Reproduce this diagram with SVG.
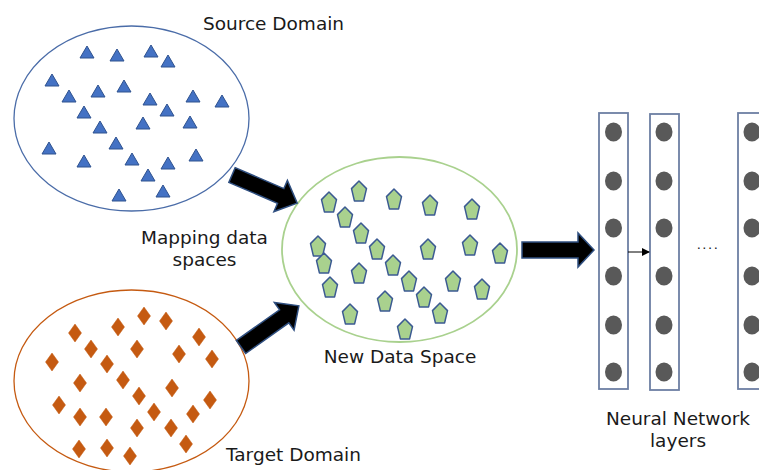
<svg xmlns="http://www.w3.org/2000/svg" xmlns:xlink="http://www.w3.org/1999/xlink" width="759" height="470" viewBox="0 0 759 470">
  <style>
    .lbl { font-family: "DejaVu Sans", Verdana, sans-serif; font-size: 18.5px; fill: #1a1a1a; text-anchor: middle; }
    .tri { fill: #4472C4; stroke: #2F528F; stroke-width: 1; }
    .dia { fill: #C55A11; stroke: #C55A11; stroke-width: 0.5; }
    .pent { fill: #A9D18E; stroke: #3B5A92; stroke-width: 1.5; stroke-linejoin: round; }
    .blk { fill: #000; stroke: #2F4F80; stroke-width: 1.5; stroke-linejoin: miter; }
    .layer { fill: #fff; stroke: #6D7FA3; stroke-width: 1.8; }
    .neuron { fill: #595959; }
  </style>
  <defs>
    <polygon id="triangle" points="0,-6 7,6 -7,6"/>
    <polygon id="diamond" points="0,-9 6.5,0 0,9 -6.5,0"/>
    <polygon id="pentagon" points="0,-10 7.5,-2.4 4.6,9.9 -4.6,9.9 -7.5,-2.4"/>
    <polygon id="blockArrow" points="0,-8 53,-8 53,-17 71,0 53,17 53,8 0,8"/>
    <marker id="smallHead" markerWidth="8" markerHeight="8" refX="7" refY="4" orient="auto" markerUnits="userSpaceOnUse">
      <path d="M0,0 L8,4 L0,8 Z" fill="#000"/>
    </marker>
  </defs>
  <rect width="759" height="470" fill="#fff"/>

  <!-- Source domain: triangles -->
  <g id="source-domain">
    <ellipse cx="131.5" cy="118.5" rx="117.5" ry="92.5" fill="none" stroke="#4A6CA8" stroke-width="1.3"/>
    <g class="tri">
      <use href="#triangle" x="87" y="52"/>
      <use href="#triangle" x="117" y="55"/>
      <use href="#triangle" x="151" y="51"/>
      <use href="#triangle" x="168" y="61"/>
      <use href="#triangle" x="52" y="80"/>
      <use href="#triangle" x="69" y="96"/>
      <use href="#triangle" x="98" y="91"/>
      <use href="#triangle" x="124" y="86"/>
      <use href="#triangle" x="150" y="99"/>
      <use href="#triangle" x="193" y="96"/>
      <use href="#triangle" x="222" y="101"/>
      <use href="#triangle" x="84" y="112"/>
      <use href="#triangle" x="167" y="110"/>
      <use href="#triangle" x="100" y="127"/>
      <use href="#triangle" x="143" y="123"/>
      <use href="#triangle" x="190" y="122"/>
      <use href="#triangle" x="49" y="148"/>
      <use href="#triangle" x="116" y="143"/>
      <use href="#triangle" x="84" y="161"/>
      <use href="#triangle" x="132" y="159"/>
      <use href="#triangle" x="168" y="163"/>
      <use href="#triangle" x="196" y="155"/>
      <use href="#triangle" x="148" y="175"/>
      <use href="#triangle" x="119" y="195"/>
      <use href="#triangle" x="163" y="191"/>
    </g>
    <text class="lbl" x="273.5" y="30">Source Domain</text>
  </g>

  <!-- Target domain: diamonds -->
  <g id="target-domain">
    <ellipse cx="131.5" cy="381" rx="117.5" ry="91" fill="none" stroke="#C55A11" stroke-width="1.3"/>
    <g class="dia">
      <use href="#diamond" x="75" y="333"/>
      <use href="#diamond" x="118" y="327"/>
      <use href="#diamond" x="144" y="316"/>
      <use href="#diamond" x="166" y="321"/>
      <use href="#diamond" x="199" y="337"/>
      <use href="#diamond" x="91" y="349"/>
      <use href="#diamond" x="137" y="349"/>
      <use href="#diamond" x="179" y="354"/>
      <use href="#diamond" x="212" y="359"/>
      <use href="#diamond" x="52" y="362"/>
      <use href="#diamond" x="107" y="364"/>
      <use href="#diamond" x="80" y="383"/>
      <use href="#diamond" x="123" y="380"/>
      <use href="#diamond" x="172" y="388"/>
      <use href="#diamond" x="139" y="396"/>
      <use href="#diamond" x="210" y="400"/>
      <use href="#diamond" x="59" y="405"/>
      <use href="#diamond" x="80" y="417"/>
      <use href="#diamond" x="106" y="417"/>
      <use href="#diamond" x="154" y="412"/>
      <use href="#diamond" x="193" y="414"/>
      <use href="#diamond" x="137" y="428"/>
      <use href="#diamond" x="171" y="428"/>
      <use href="#diamond" x="186" y="444"/>
      <use href="#diamond" x="79" y="449"/>
      <use href="#diamond" x="107" y="448"/>
      <use href="#diamond" x="130" y="456"/>
    </g>
    <text class="lbl" x="293.5" y="461">Target Domain</text>
  </g>

  <!-- Shared space: pentagons -->
  <g id="new-data-space">
    <ellipse cx="399.5" cy="249.5" rx="117.5" ry="92.5" fill="none" stroke="#A9D18E" stroke-width="1.8"/>
    <g class="pent">
      <use href="#pentagon" x="329" y="202"/>
      <use href="#pentagon" x="359" y="191"/>
      <use href="#pentagon" x="394" y="199"/>
      <use href="#pentagon" x="430" y="205"/>
      <use href="#pentagon" x="472" y="209"/>
      <use href="#pentagon" x="345" y="217"/>
      <use href="#pentagon" x="361" y="233"/>
      <use href="#pentagon" x="318" y="246"/>
      <use href="#pentagon" x="324" y="263"/>
      <use href="#pentagon" x="377" y="249"/>
      <use href="#pentagon" x="428" y="249"/>
      <use href="#pentagon" x="470" y="245"/>
      <use href="#pentagon" x="500" y="253"/>
      <use href="#pentagon" x="393" y="265"/>
      <use href="#pentagon" x="359" y="273"/>
      <use href="#pentagon" x="409" y="281"/>
      <use href="#pentagon" x="330" y="287"/>
      <use href="#pentagon" x="453" y="281"/>
      <use href="#pentagon" x="482" y="289"/>
      <use href="#pentagon" x="385" y="301"/>
      <use href="#pentagon" x="424" y="297"/>
      <use href="#pentagon" x="440" y="313"/>
      <use href="#pentagon" x="350" y="314"/>
      <use href="#pentagon" x="405" y="329"/>
    </g>
    <text class="lbl" x="400" y="363">New Data Space</text>
  </g>

  <!-- Mapping label -->
  <g id="mapping-label">
    <text class="lbl" x="204.5" y="244">Mapping data</text>
    <text class="lbl" x="204.5" y="266">spaces</text>
  </g>

  <!-- Network layers -->
  <g id="layer-1">
    <rect class="layer" x="599" y="113" width="29" height="276"/>
    <g class="neuron">
      <ellipse cx="613.5" cy="132" rx="8.5" ry="9.5"/>
      <ellipse cx="613.5" cy="181" rx="8.5" ry="9.5"/>
      <ellipse cx="613.5" cy="228" rx="8.5" ry="9.5"/>
      <ellipse cx="613.5" cy="276" rx="8.5" ry="9.5"/>
      <ellipse cx="613.5" cy="325" rx="8.5" ry="9.5"/>
      <ellipse cx="613.5" cy="372" rx="8.5" ry="9.5"/>
    </g>
  </g>
  <g id="layer-2">
    <rect class="layer" x="650" y="114" width="29" height="276"/>
    <g class="neuron">
      <ellipse cx="664" cy="132" rx="8.5" ry="9.5"/>
      <ellipse cx="664" cy="181" rx="8.5" ry="9.5"/>
      <ellipse cx="664" cy="228" rx="8.5" ry="9.5"/>
      <ellipse cx="664" cy="276" rx="8.5" ry="9.5"/>
      <ellipse cx="664" cy="325" rx="8.5" ry="9.5"/>
      <ellipse cx="664" cy="372" rx="8.5" ry="9.5"/>
    </g>
  </g>
  <g id="layer-n">
    <rect class="layer" x="738" y="113" width="29" height="276"/>
    <g class="neuron">
      <ellipse cx="752" cy="132" rx="8.5" ry="9.5"/>
      <ellipse cx="752" cy="181" rx="8.5" ry="9.5"/>
      <ellipse cx="752" cy="228" rx="8.5" ry="9.5"/>
      <ellipse cx="752" cy="276" rx="8.5" ry="9.5"/>
      <ellipse cx="752" cy="325" rx="8.5" ry="9.5"/>
      <ellipse cx="752" cy="372" rx="8.5" ry="9.5"/>
    </g>
  </g>
  <g id="ellipsis">
    <text x="708" y="249" font-family="'DejaVu Sans', sans-serif" font-size="13" letter-spacing="1.5" fill="#1a1a1a" text-anchor="middle">....</text>
  </g>
  <g id="network-label">
    <text class="lbl" x="678" y="425">Neural Network</text>
    <text class="lbl" x="678" y="447">layers</text>
  </g>

  <!-- Connectors -->
  <g id="connectors">
    <use class="blk" href="#blockArrow" transform="translate(232,175) rotate(23.3)"/>
    <use class="blk" href="#blockArrow" transform="translate(241,347) rotate(-35.4)"/>
    <polygon class="blk" points="522,242 578,242 578,233 594,250 578,267 578,258 522,258"/>
    <line x1="628" y1="252" x2="649" y2="252" stroke="#000" stroke-width="1" marker-end="url(#smallHead)"/>
  </g>
</svg>
